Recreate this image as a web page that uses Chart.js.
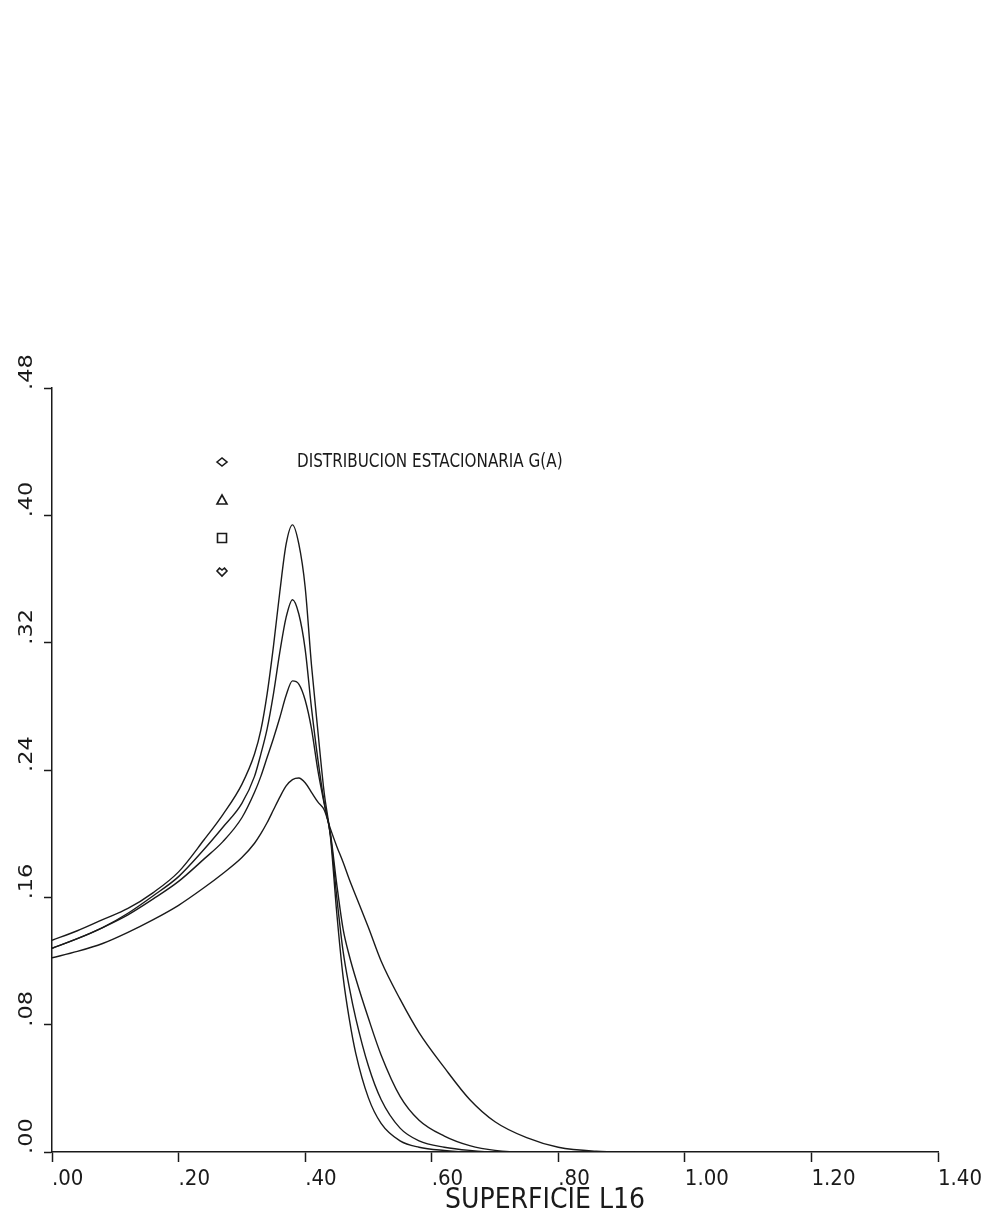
<!DOCTYPE html>
<html>
<head>
<meta charset="utf-8">
<script src="https://cdn.jsdelivr.net/npm/chart.js@4/dist/chart.umd.min.js"></script>
<style>
  html, body { margin: 0; padding: 0; background: #ffffff; }
  #wrap { width: 985px; height: 1226px; position: relative; }
</style>
</head>
<body>
<div id="wrap"><canvas id="c" width="985" height="1226"></canvas></div>
<script>
// ---- data ----
const xValues = [0, 0.04, 0.08, 0.12, 0.16, 0.20, 0.24, 0.27, 0.30, 0.32, 0.33, 0.34, 0.35, 0.36, 0.37, 0.38, 0.39, 0.40, 0.41, 0.42, 0.43, 0.44, 0.45, 0.46, 0.47, 0.48, 0.50, 0.52, 0.55, 0.58, 0.62, 0.66, 0.70, 0.75, 0.80, 0.86, 0.92];

const serie1 = [0.133, 0.139, 0.146, 0.153, 0.163, 0.176, 0.196, 0.212, 0.231, 0.250, 0.265, 0.288, 0.318, 0.352, 0.382, 0.394, 0.382, 0.355, 0.306, 0.265, 0.226, 0.198, 0.150, 0.110, 0.083, 0.062, 0.034, 0.018, 0.007, 0.003, 0.001, 0, 0, 0, 0, 0, 0];
const serie2 = [0.128, 0.134, 0.141, 0.150, 0.161, 0.173, 0.190, 0.204, 0.219, 0.236, 0.250, 0.266, 0.288, 0.314, 0.336, 0.347, 0.338, 0.316, 0.279, 0.247, 0.220, 0.199, 0.160, 0.126, 0.103, 0.084, 0.054, 0.033, 0.015, 0.007, 0.003, 0.001, 0, 0, 0, 0, 0];
const serie3 = [0.128, 0.134, 0.141, 0.149, 0.159, 0.170, 0.184, 0.195, 0.210, 0.226, 0.236, 0.248, 0.260, 0.273, 0.287, 0.296, 0.294, 0.284, 0.266, 0.240, 0.219, 0.200, 0.168, 0.140, 0.123, 0.109, 0.084, 0.061, 0.035, 0.020, 0.010, 0.004, 0.001, 0, 0, 0, 0];
const serie4 = [0.122, 0.126, 0.131, 0.138, 0.146, 0.155, 0.166, 0.175, 0.185, 0.194, 0.200, 0.207, 0.215, 0.223, 0.230, 0.234, 0.235, 0.232, 0.226, 0.220, 0.215, 0.203, 0.192, 0.182, 0.171, 0.161, 0.141, 0.120, 0.096, 0.075, 0.053, 0.033, 0.019, 0.009, 0.003, 0.0005, 0];

const xTickLabels = ['.00', '.20', '.40', '.60', '.80', '1.00', '1.20', '1.40'];
const yTickLabels = ['.00', '.08', '.16', '.24', '.32', '.40', '.48'];

const chartTitle = 'DISTRIBUCION ESTACIONARIA G(A)';
const xAxisTitle = 'SUPERFICIE L16';
const legendSymbols = ['diamond', 'triangle', 'square', 'notchedDiamond'];

// ---- styling ----
const FONT = "'DejaVu Sans Condensed', 'Liberation Sans Narrow', sans-serif";
const INK = '#1a1a1a';

function toPoints(ys) { return xValues.map((x, i) => ({ x: x, y: ys[i] })); }

const seriesList = [serie1, serie2, serie3, serie4];
const datasets = seriesList.map((s, i) => ({
  label: 'G' + (i + 1),
  data: toPoints(s),
  borderColor: INK,
  borderWidth: 1.4,
  pointRadius: 0,
  fill: false,
  cubicInterpolationMode: 'monotone'
}));

const overlay = {
  id: 'overlay',
  afterDraw(chart) {
    const { ctx, chartArea, scales } = chart;
    const L = chartArea.left, T = chartArea.top, B = chartArea.bottom;
    ctx.save();
    ctx.strokeStyle = INK;
    ctx.fillStyle = INK;
    ctx.lineWidth = 1.6;

    // y tick labels, rotated, starting at the tick and reading upward
    const yScale = scales.y;
    ctx.font = '25px ' + FONT;
    ctx.textAlign = 'left';
    ctx.textBaseline = 'middle';
    yScale.ticks.forEach((t) => {
      const idx = Math.round(t.value / 0.08);
      const py = yScale.getPixelForValue(t.value);
      ctx.save();
      ctx.translate(L - 25, py + 2);
      ctx.rotate(-Math.PI / 2);
      ctx.scale(1, 0.75);
      ctx.fillText(yTickLabels[idx], 0, 0);
      ctx.restore();
    });

    // legend symbols
    const sx = L + 170;
    const sy = [T + 74, T + 112, T + 150, T + 184];
    legendSymbols.forEach((sym, i) => {
      const x = sx, y = sy[i];
      ctx.beginPath();
      if (sym === 'diamond') {
        ctx.moveTo(x - 5, y); ctx.lineTo(x, y - 4); ctx.lineTo(x + 5, y); ctx.lineTo(x, y + 4); ctx.closePath();
      } else if (sym === 'triangle') {
        ctx.moveTo(x - 5, y + 4); ctx.lineTo(x, y - 5); ctx.lineTo(x + 5, y + 4); ctx.closePath();
      } else if (sym === 'square') {
        ctx.rect(x - 4.5, y - 4.5, 9, 9);
      } else {
        ctx.moveTo(x - 5, y - 1); ctx.lineTo(x - 2.5, y - 4); ctx.lineTo(x, y - 2); ctx.lineTo(x + 2.5, y - 4);
        ctx.lineTo(x + 5, y - 1); ctx.lineTo(x, y + 4); ctx.closePath();
      }
      ctx.stroke();
    });

    // chart title next to the first symbol
    ctx.save();
    ctx.font = '19px ' + FONT;
    ctx.textAlign = 'left';
    ctx.textBaseline = 'middle';
    ctx.translate(L + 245, T + 74);
    ctx.scale(0.89, 1);
    ctx.fillText(chartTitle, 0, 0);
    ctx.restore();

    // x axis title
    ctx.font = '28px ' + FONT;
    ctx.textAlign = 'center';
    ctx.textBaseline = 'middle';
    ctx.fillText(xAxisTitle, L + 493, B + 49);
    ctx.restore();
  }
};

new Chart(document.getElementById('c'), {
  type: 'line',
  data: { datasets: datasets },
  options: {
    responsive: false,
    devicePixelRatio: 1,
    animation: false,
    layout: { padding: { left: 27, top: 388, right: 47, bottom: 0 } },
    plugins: { legend: { display: false }, tooltip: { enabled: false }, title: { display: false } },
    scales: {
      x: {
        type: 'linear',
        min: 0, max: 1.4,
        afterFit(scale) { scale.height = 74; scale.paddingLeft = 0; scale.paddingRight = 0; },
        grid: { drawOnChartArea: false, drawTicks: true, tickLength: 10, tickColor: INK, tickWidth: 1.5 },
        border: { display: true, color: INK, width: 1.5 },
        ticks: {
          stepSize: 0.2,
          align: 'start',
          padding: 4,
          color: INK,
          font: { family: FONT, size: 22 },
          maxRotation: 0, minRotation: 0,
          autoSkip: false,
          callback: (v) => xTickLabels[Math.round(v / 0.2)]
        }
      },
      y: {
        type: 'linear',
        min: 0, max: 0.48,
        afterFit(scale) { scale.width = 25; },
        grid: { drawOnChartArea: false, drawTicks: true, tickLength: 8, tickColor: INK, tickWidth: 1.5 },
        border: { display: true, color: INK, width: 1.5 },
        ticks: {
          stepSize: 0.08,
          display: false,
          autoSkip: false
        }
      }
    }
  },
  plugins: [overlay]
});
</script>
</body>
</html>
